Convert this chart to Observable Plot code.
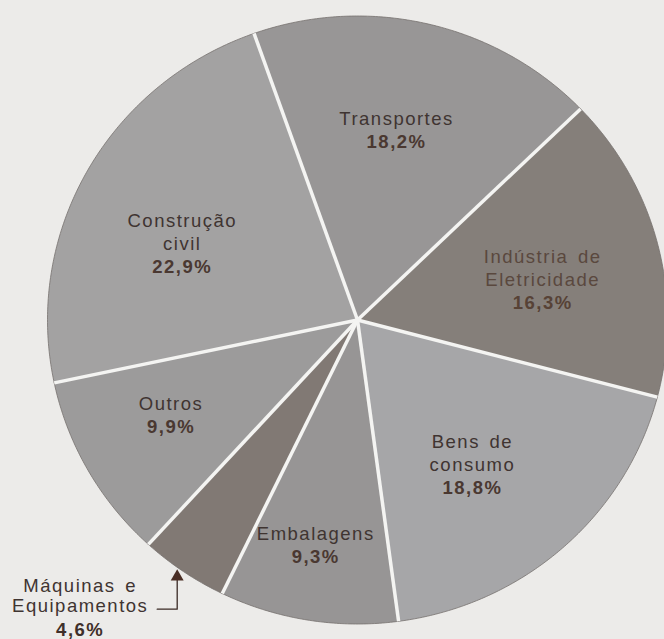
<!DOCTYPE html>
<html>
<head>
<meta charset="utf-8">
<script src="https://cdn.jsdelivr.net/npm/d3@7"></script>
<script src="https://cdn.jsdelivr.net/npm/@observablehq/plot@0.6"></script>
<style>
  html, body { margin: 0; padding: 0; background: #ecebe9; }
  #chart { width: 664px; height: 639px; overflow: hidden; }
</style>
</head>
<body>
<div id="chart"></div>
<script>
// ---- data ----
const categories = ["Transportes", "Indústria de\nEletricidade", "Bens de\nconsumo", "Embalagens", "Máquinas e\nEquipamentos", "Outros", "Construção\ncivil"];
const values = [18.2, 16.3, 18.8, 9.3, 4.6, 9.9, 22.9];
const percentLabels = ["18,2%", "16,3%", "18,8%", "9,3%", "4,6%", "9,9%", "22,9%"];
const sliceColors = ["#989696", "#857f7a", "#a6a6a8", "#979595", "#817974", "#9c9b9b", "#a3a2a2"];

// ---- layout ----
const W = 664, H = 639;
const cx = 357, cy = 319.5, Rx = 310, Ry = 304;
const startAngle = -19.5; // degrees, clockwise from top
// label placement per slice: angle offset from slice middle (deg) and radius (fraction of R); null = outside label
const labelLayout = [
  {da: -1.1, r: 0.598}, {da: 9.2, r: 0.600}, {da: 7.7, r: 0.667}, {da: 0.7, r: 0.790},
  null, {da: -0.6, r: 0.697}, {da: -12.3, r: 0.591}
];
const lineStep = 23 / Ry;
const rad = d => d * Math.PI / 180;
const polar = (a, r) => ({x: r * Math.sin(rad(a)), y: r * Math.cos(rad(a))});

const total = d3.sum(values);
let acc = startAngle;
const slices = values.map((v, i) => {
  const a0 = acc, a1 = acc + v / total * 360;
  acc = a1;
  return {i, name: categories[i], a0, a1, mid: (a0 + a1) / 2, color: sliceColors[i]};
});

const sliceMarks = slices.map(s => {
  const pts = [{x: 0, y: 0}];
  const n = Math.ceil((s.a1 - s.a0) / 0.5);
  for (let k = 0; k <= n; k++) pts.push(polar(s.a0 + (s.a1 - s.a0) * k / n, 1));
  return Plot.line(pts, {x: "x", y: "y", fill: s.color, stroke: "#76716e", strokeWidth: 0.8, curve: "linear-closed"});
});

const boundaries = slices.map(s => polar(s.a0, 1.0));

// labels
const nameLines = [], pctLines = [];
slices.forEach((s, i) => {
  const L = labelLayout[i];
  if (!L) return;
  const p = polar(s.mid + L.da, L.r);
  const lines = categories[i].split("\n");
  const fill = i === 1 ? "#5a483e" : "#3f3431";
  lines.forEach((t, k) => nameLines.push({x: p.x, y: p.y + (lines.length - k) * lineStep, text: t, fill}));
  pctLines.push({x: p.x, y: p.y, text: percentLabels[i], fill: i === 1 ? "#574236" : "#4a3831"});
});

// outside label for Máquinas e Equipamentos
const mq = slices[4];
const tip = polar(mq.mid + 0.9, 1.013);
const drop = 37 / Ry, arm = 20 / Rx;
const arrowPath = [
  {x: tip.x - arm, y: tip.y - drop},
  {x: tip.x, y: tip.y - drop},
  {x: tip.x, y: tip.y - 0.012}
];
const mqText = categories[4].split("\n");
const mqX = tip.x - 97 / Rx;
const mqOff = [13.5, 34, 57.5];
mqText.forEach((t, k) => nameLines.push({x: mqX, y: tip.y - mqOff[k] / Ry, text: t, fill: "#3f3431"}));
pctLines.push({x: mqX, y: tip.y - mqOff[2] / Ry, text: percentLabels[4], fill: "#3f302a"});

const chart = Plot.plot({
  width: W, height: H,
  margin: 0,
  style: {background: "transparent", letterSpacing: "1.5px", wordSpacing: "3px", fontFamily: "'Liberation Sans', Arial, sans-serif"},
  x: {domain: [-cx / Rx, (W - cx) / Rx], range: [0, W], axis: null},
  y: {domain: [-(H - cy) / Ry, cy / Ry], range: [H, 0], axis: null},
  marks: [
    ...sliceMarks,
    Plot.link(boundaries, {x1: () => 0, y1: () => 0, x2: "x", y2: "y", stroke: "#f4f4f2", strokeWidth: 3.5}),
    Plot.text(nameLines, {x: "x", y: "y", text: "text", fill: "fill", fontSize: 18.5, fontFamily: "Liberation Sans"}),
    Plot.text(pctLines, {x: "x", y: "y", text: "text", fill: "fill", fontSize: 18.5, fontWeight: "bold", fontFamily: "Liberation Sans"}),
    Plot.line(arrowPath, {x: "x", y: "y", stroke: "#3a2a25", strokeWidth: 1.3}),
    Plot.dot([{x: tip.x, y: tip.y - 0.015}], {x: "x", y: "y", symbol: "triangle", r: 4.8, fill: "#4a2e25", stroke: "none"})
  ]
});
document.getElementById("chart").appendChild(chart);
</script>
</body>
</html>
